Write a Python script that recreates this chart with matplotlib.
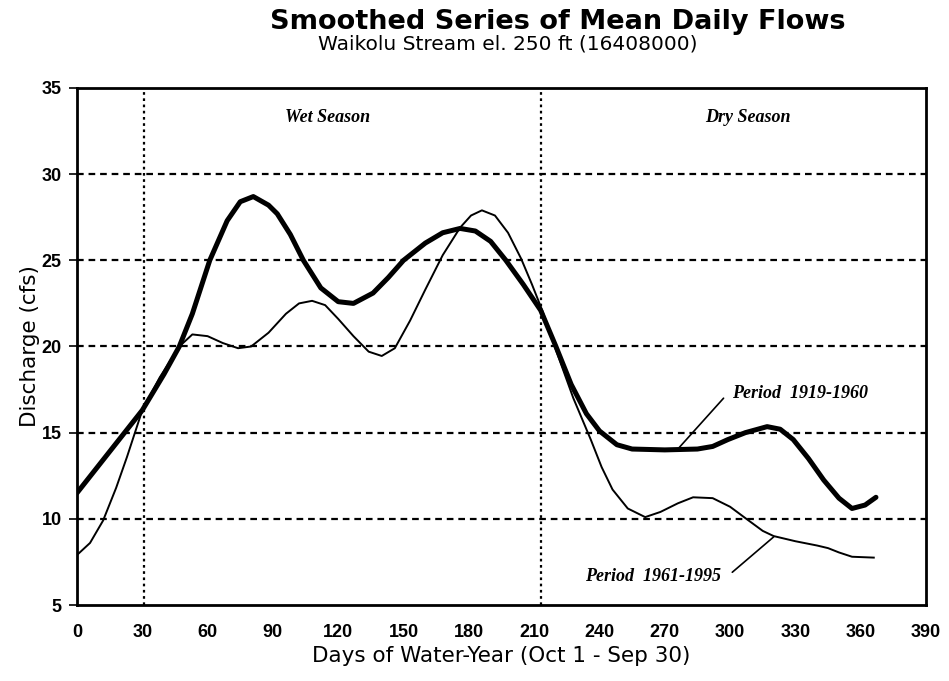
import matplotlib
matplotlib.use('Agg')
from matplotlib import pyplot as plt

plt.rcParams['font.family'] = ['Liberation Sans', 'DejaVu Sans']

# Period 1919-1960 (thick line)
days_old = [0, 10, 20, 30, 40, 47, 53, 61, 69, 75, 81, 88, 92, 98, 104, 112, 120, 127,
            136, 143, 150, 160, 168, 176, 183, 190, 197, 205, 213, 220, 227, 234, 240,
            248, 255, 270, 285, 292, 299, 307, 317, 323, 329, 336, 343, 350, 356, 362, 367]
flow_old = [11.5, 13.1, 14.7, 16.3, 18.4, 20.0, 21.9, 25.0, 27.3, 28.4, 28.7, 28.2, 27.7, 26.5, 25.0, 23.4, 22.6, 22.5,
            23.1, 24.0, 25.0, 26.0, 26.6, 26.85, 26.7, 26.1, 25.0, 23.6, 22.1, 20.0, 17.8, 16.1, 15.1,
            14.3, 14.05, 14.0, 14.05, 14.2, 14.6, 15.0, 15.35, 15.2, 14.6, 13.5, 12.25, 11.2, 10.6, 10.8, 11.25]

# Period 1961-1995 (thin line)
days_new = [0, 6, 12, 18, 23, 30, 38, 42, 47, 53, 60, 67, 74, 80, 88, 96, 102, 108, 114,
            120, 127, 134, 140, 146, 153, 160, 168, 176, 181, 186, 192, 198, 204, 209, 214,
            220, 228, 236, 241, 246, 253, 261, 268, 276, 283, 292, 300, 308, 315, 320, 330,
            340, 345, 350, 356, 366]
flow_new = [7.9, 8.6, 9.9, 11.8, 13.6, 16.3, 18.2, 19.0, 20.0, 20.7, 20.6, 20.2, 19.9, 20.0, 20.8, 21.9, 22.5, 22.65, 22.4,
            21.6, 20.6, 19.7, 19.45, 19.9, 21.5, 23.3, 25.3, 26.9, 27.6, 27.9, 27.6, 26.6, 25.1, 23.6, 22.0,
            19.8, 17.0, 14.6, 13.0, 11.7, 10.6, 10.1, 10.4, 10.9, 11.25, 11.2, 10.7, 9.95, 9.3, 9.0, 8.7,
            8.45, 8.3, 8.05, 7.8, 7.75]

season_bounds = [31, 213]
x_ticks = list(range(0, 391, 30))
y_ticks = [5, 10, 15, 20, 25, 30, 35]

fig = plt.figure(figsize=(9.49, 6.81), dpi=100)
ax = fig.add_axes([0.0811, 0.1116, 0.8947, 0.7592])

for y in [10, 15, 20, 25, 30]:
    ax.axhline(y, color='black', lw=1.6, linestyle=(0, (3, 2.2)), zorder=1)
for x in season_bounds:
    ax.axvline(x, color='black', lw=1.6, linestyle=(0, (1.2, 1.6)), zorder=1)

ax.plot(days_new, flow_new, color='black', lw=1.4, zorder=3)
ax.plot(days_old, flow_old, color='black', lw=3.6, zorder=4, solid_capstyle='round')

ax.set_xlim(0, 390)
ax.set_ylim(5, 35)
ax.set_xticks(x_ticks)
ax.set_yticks(y_ticks)
tick_font = dict(family=['Liberation Sans Narrow', 'Liberation Sans'], weight='bold', size=13)
ax.set_xticklabels([str(t) for t in x_ticks], **tick_font)
ax.set_yticklabels([str(t) for t in y_ticks], **tick_font)
ax.tick_params(axis='x', length=0, pad=14)
ax.tick_params(axis='y', length=6, width=1.2, direction='out', pad=5)
for s in ax.spines.values():
    s.set_linewidth(2)

ax.set_xlabel('Days of Water-Year (Oct 1 - Sep 30)', fontsize=15.5, family='DejaVu Sans', labelpad=3)
ax.set_ylabel('Discharge (cfs)', fontsize=15.5, family='DejaVu Sans', labelpad=1)

fig.text(0.588, 0.967, 'Smoothed Series of Mean Daily Flows', ha='center', va='center',
         fontsize=19.5, weight='bold', family='DejaVu Sans')
fig.text(0.535, 0.935, 'Waikolu Stream el. 250 ft (16408000)', ha='center', va='center',
         fontsize=14.5, family='DejaVu Sans')

serif = dict(family='Liberation Serif', style='italic', weight='bold', fontsize=13)
ax.text(115, 33.3, 'Wet Season', ha='center', va='center', **serif)
ax.text(308, 33.3, 'Dry Season', ha='center', va='center', **serif)

# leader lines and labels for the two periods
ax.annotate('', xy=(276, 14.05), xytext=(297, 17.0),
            arrowprops=dict(arrowstyle='-', color='black', lw=1.2, shrinkA=0, shrinkB=0))
ax.text(301, 17.3, 'Period  1919-1960', ha='left', va='center', **serif)
ax.annotate('', xy=(320, 8.95), xytext=(301, 6.9),
            arrowprops=dict(arrowstyle='-', color='black', lw=1.2, shrinkA=0, shrinkB=0))
ax.text(296, 6.68, 'Period  1961-1995', ha='right', va='center', **serif)

fig.savefig('out.png', dpi=100)
